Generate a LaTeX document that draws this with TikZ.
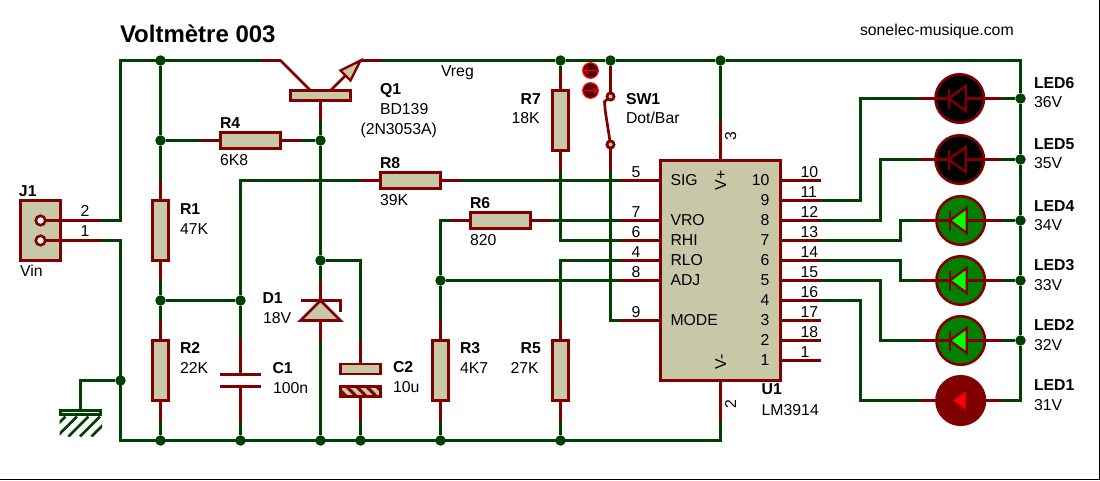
\documentclass[tikz,border=0pt]{standalone}
\usepackage{fontspec}
\setmainfont{Liberation Sans}
\definecolor{wgreen}{RGB}{0,64,0}
\definecolor{pred}{RGB}{128,0,0}
\definecolor{cream}{RGB}{200,200,168}
\definecolor{ledgreen}{RGB}{0,128,0}
\definecolor{btn}{RGB}{80,0,0}
\tikzset{
 wirew/.style={draw=wgreen,line width=2.7,line join=miter},
 pinw/.style={draw=pred,line width=2.7,line join=round},
 body/.style={draw=pred,fill=cream,line width=2.6,inner sep=0pt,outer sep=0pt,rectangle},
 hres/.style={body,minimum width=60pt,minimum height=16pt},
 vres/.style={body,minimum width=16pt,minimum height=60pt},
 plate/.style={fill=pred,inner sep=0pt,outer sep=0pt,rectangle,minimum width=41pt,minimum height=2.8pt},
 dot/.style={circle,fill=wgreen,inner sep=0pt,outer sep=0pt,minimum size=10.5pt},
 pinhole/.style={circle,draw=pred,fill=white,line width=2.6,inner sep=0pt,outer sep=0pt,minimum size=9.5pt},
 swpin/.style={circle,draw=pred,fill=cream,line width=2.6,inner sep=0pt,outer sep=0pt,minimum size=7pt},
 ledc/.style={circle,draw=pred,line width=2.6,inner sep=0pt,outer sep=0pt,minimum size=48.5pt},
 btnc/.style={circle,draw=red,fill=btn,line width=1.2,inner sep=0pt,outer sep=0pt,minimum size=15.5pt},
 lbl/.style={anchor=base west,inner sep=0pt,outer sep=0pt,font=\fontsize{15.8}{18}\selectfont,text=black},
 lbb/.style={lbl,font=\fontsize{15.8}{18}\selectfont\bfseries},
}
\newcommand{\ledsym}[5]{%
 \node[ledc,fill=#4] (#1) at (#2,#3) {};
 \draw[pinw] (#1.center) ++(-41,0) coordinate (#1l) -- ++(82,0) coordinate (#1r);
 \draw[pinw,fill=#5,line width=2.4,line join=miter] (#2-11,#3) -- (#2+6,#3-12.5) -- (#2+6,#3+12.5) -- cycle;
 \draw[pinw,line width=2.4] (#2-11,#3-10) -- (#2-11,#3+10);
}
\begin{document}
\begin{tikzpicture}[x=1pt,y=-1pt]
\useasboundingbox (0,0) rectangle (1100,480);
\fill[white] (0,0) rectangle (1100,480);
\begin{scope}[shift={(0.5,0.5)}]
% ---- junctions
\foreach \n/\x/\y in {j1/160/60,j2/160/140,j3/320/140,j4/160/300,j5/240/300,j6/320/260,j7/120/380,
  j8/160/440,j9/240/440,j10/320/440,j11/360/440,j12/440/440,j13/560/440,j14/440/280,
  j15/560/60,j16/610/60,j17/720/60,j18/1020/98,j19/1020/159,j20/1020/220,j21/1020/280,j22/1020/340}
  {\node[dot] (\n) at (\x,\y) {};}
% ---- bodies
\node[hres] (R4) at (250,140) {};
\node[hres] (R8) at (410,180) {};
\node[hres] (R6) at (500,220) {};
\node[vres] (R1) at (160,230) {};
\node[vres] (R2) at (160,370) {};
\node[vres] (R3) at (440,370) {};
\node[vres] (R5) at (560,370) {};
\node[vres] (R7) at (560,120) {};
\node[body,minimum width=60pt,minimum height=10pt] (Q1) at (320,95) {};
\node[body,minimum width=120pt,minimum height=220pt] (U1) at (720,270) {};
\node[body,minimum width=40pt,minimum height=60pt] (J1) at (40,230) {};
\node[pinhole] (Jh2) at (40,220) {};
\node[pinhole] (Jh1) at (40,240) {};
\node[plate] (C1a) at (240,374) {};
\node[plate] (C1b) at (240,386) {};
\node[body,minimum width=40pt,minimum height=10pt] (C2a) at (360,368.5) {};
\node[body,minimum width=40pt,minimum height=10pt] (C2b) at (360,391) {};
\begin{scope}
 \clip (C2b.north west) rectangle (C2b.south east);
 \foreach \x in {335,345,...,375} {\draw[pred,line width=3] (\x,385) -- (\x+12,397);}
\end{scope}
\draw[pinw,line width=2.6] (C2b.north west) rectangle (C2b.south east);
\node[rectangle,draw=wgreen,fill=white,line width=2.6,inner sep=0pt,outer sep=0pt,minimum width=40pt,minimum height=4pt] (Gnd) at (80,412) {};
% ---- ground hatch
\begin{scope}
 \clip (59,415.5) rectangle (101.5,436);
 \foreach \c in {481,492.5,504,515.5,527,538.5} {\draw[wgreen,line width=2.6] (\c-416,416) -- (\c-436,436);}
\end{scope}
% ---- pins of the resistors
\draw[pinw] (R4.west) -- ++(-20,0) coordinate (R4w);
\draw[pinw] (R4.east) -- ++(20,0) coordinate (R4e);
\draw[pinw] (R8.west) -- ++(-20,0) coordinate (R8w);
\draw[pinw] (R8.east) -- ++(20,0) coordinate (R8e);
\draw[pinw] (R6.west) -- ++(-20,0) coordinate (R6w);
\draw[pinw] (R6.east) -- ++(20,0) coordinate (R6e);
\foreach \r in {R1,R2,R3,R5,R7} {
 \draw[pinw] (\r.north) -- ++(0,-20) coordinate (\r t);
 \draw[pinw] (\r.south) -- ++(0,20) coordinate (\r b);
}
% ---- connector J1
\draw[pinw] (Jh2.east) -- (100,220) coordinate (Jp2);
\draw[pinw] (Jh1.east) -- (100,240) coordinate (Jp1);
% ---- transistor
\coordinate (Qc) at (260,60);
\coordinate (Qe) at (380,60);
\coordinate (Qtip) at (360,60);
\draw[pinw] (Qc) -- (280,60) -- (310,90);
\draw[pinw] (330,90) -- (345,75);
\draw[pinw] (Qtip) -- (Qe);
\draw[pinw,fill=cream,line width=2.4,line join=miter] (Qtip) -- (340,70) -- (350,80) -- cycle;
\draw[pinw] (Q1.south) -- ++(0,20) coordinate (Qb);
% ---- C1
\draw[pinw] (C1a.north) -- ++(0,-34) coordinate (C1t);
\draw[pinw] (C1b.south) -- ++(0,34) coordinate (C1d);
% ---- D1
\coordinate (D1a) at (320,300);
\coordinate (D1c) at (320,320);
\draw[pinw] (D1a) -- ++(0,-20) coordinate (D1t);
\draw[pinw] (D1c) -- ++(0,20) coordinate (D1b);
\draw[pinw,fill=cream,line join=miter] (D1a) -- (300,320) -- (340,320) -- cycle;
\draw[pinw,line join=miter] (300,300) -- (340,300) -- (340,311);
% ---- C2
\draw[pinw] (C2a.north) -- ++(0,-24) coordinate (C2t);
\draw[pinw] (C2b.south) -- ++(0,24) coordinate (C2d);
% ---- switch
\node[swpin] (SWa) at (610,96) {};
\node[swpin] (SWc) at (610,144) {};
\draw[pinw] (j16.south) -- (SWa.north);
\draw[pinw] (SWa.center) -- (604,101) -- (604.7,110) -- (SWc.center);
\node[swpin] at (SWa.center) {};
\node[swpin] at (SWc.center) {};
\draw[pinw] (SWc.south) -- (610,170) coordinate (SWb);
% ---- U1 pins
\foreach \n/\y in {P5/180,P7/220,P6/240,P4/260,P8/280,P9/320} {
 \coordinate (\n) at (620,\y);
 \draw[pinw] (\n) -- (U1.west |- \n);
}
\foreach \y in {180,200,...,360} {
 \coordinate (o\y) at (820,\y);
 \draw[pinw] (U1.east |- o\y) -- (o\y);
}
\draw[pinw] (U1.north) -- ++(0,-40) coordinate (Uv);
\draw[pinw] (U1.south) -- ++(0,40) coordinate (Ugnd);
% ---- LEDs
\ledsym{L6}{959.2}{98}{black}{black}
\ledsym{L5}{959.2}{159}{black}{black}
\ledsym{L4}{960.2}{220}{ledgreen}{green}
\ledsym{L3}{960.2}{280}{ledgreen}{green}
\ledsym{L2}{960.2}{340}{ledgreen}{green}
\node[ledc,fill=pred] (L1) at (960.2,400) {};
\draw[pinw] (L1.center) ++(-41,0) coordinate (L1l) -- ++(82,0) coordinate (L1r);
\fill[red] (953,400) -- (965,391) -- (965,409) -- cycle;
% ---- green wires
\coordinate (jb) at (720,440);
\draw[wirew] (Jp2) -- ++(20,0) |- (Qc);
\draw[wirew] (Jp1) -- ++(20,0) |- (jb) -- (Ugnd);
\draw[wirew] (j1) -- (j2) -- (R1t);
\draw[wirew] (R1b) -- (j4) -- (R2t);
\draw[wirew] (R2b) -- (j8);
\draw[wirew] (j2) -- (R4w);
\draw[wirew] (R4e) -- (j3);
\draw[wirew] (Qb) -- (j3) -- (j6) -- (D1t);
\draw[wirew] (D1b) -- (j10);
\draw[wirew] (j4) -- (j5) -- (C1t);
\draw[wirew] (C1d) -- (j9);
\draw[wirew] (R8w) -| (j5);
\draw[wirew] (j6) -| (C2t);
\draw[wirew] (C2d) -- (j11);
\draw[wirew] (R8e) -- (P5);
\draw[wirew] (R6e) -- (P7);
\draw[wirew] (R6w) -| (j14);
\draw[wirew] (j14) -- (R3t);
\draw[wirew] (R3b) -- (j12);
\draw[wirew] (j14) -- (P8);
\draw[wirew] (R7b) |- (P6);
\draw[wirew] (R5t) |- (P4);
\draw[wirew] (R5b) -- (j13);
\draw[wirew] (j15) -- (R7t);
\draw[wirew] (SWb) |- (P9);
\draw[wirew] (Qe) -- (j15) -- (j16) -- (j17) -- (1020,60) coordinate (cr) -- (j18) -- (j19) -- (j20) -- (j21) -- (j22) |- (L1r);
\draw[wirew] (j17) -- (Uv);
\draw[wirew] (j7) -| (Gnd.north);
\draw[wirew] (o200) -- ++(40,0) |- (L6l);
\draw[wirew] (o220) -- ++(60,0) |- (L5l);
\draw[wirew] (o240) -- ++(80,0) |- (L4l);
\draw[wirew] (o260) -- ++(80,0) |- (L3l);
\draw[wirew] (o280) -- ++(60,0) |- (L2l);
\draw[wirew] (o300) -- ++(40,0) |- (L1l);
\draw[wirew] (L6r) -- (j18);
\draw[wirew] (L5r) -- (j19);
\draw[wirew] (L4r) -- (j20);
\draw[wirew] (L3r) -- (j21);
\draw[wirew] (L2r) -- (j22);
% ---- mode buttons
\node[btnc] (Bup) at (590,70) {};
\node[btnc] (Bdn) at (590,90) {};
\draw[red,line width=.8] (Bup.center) ++(6,0) -- ++(-12,0) -- ++(3,-3) ++(-3,3) -- ++(3,3);
\draw[red,line width=.8] (Bdn.center) ++(-6,0) -- ++(12,0) -- ++(-3,-3) ++(3,3) -- ++(-3,3);
\end{scope}
% ---- texts
\node[lbb,font=\fontsize{24}{26}\selectfont\bfseries] (title) at (120,42) {Voltmètre 003};
\node[lbl] (site) at (860,35) {sonelec-musique.com};
\foreach \n/\x/\y/\t in {tJ1/19/196/J1,tR4/220/128/R4,tR1/180/214/R1,tR2/180/353/R2,tC1/272.5/373/C1,tD1/262.5/303/D1,
  tC2/393/372/C2,tR3/460/353/R3,tR5/520.6/353/R5,tR8/380/168/R8,tR6/470/208/R6,tR7/520.6/104/R7,tQ1/380/94/Q1,
  tSW/626/104/SW1,tU1/761.7/394/U1,tL6/1034/88.7/LED6,tL5/1034/149/LED5,tL4/1034/211/LED4,tL3/1034/270.7/LED3,
  tL2/1034/330.7/LED2,tL1/1034/390.7/LED1}
  {\node[lbb] (\n) at (\x,\y) {\t};}
\foreach \n/\x/\y/\t in {vVin/20/276/Vin,vJ2/80.5/216.7/2,vJ1/80.5/236.7/1,v6K8/220/165/6K8,v47K/180/234/47K,v22K/180/373/22K,
  v100n/273/393/100n,v18V/263/323/18V,v10u/393/392/10u,v4K7/460/373/4K7,v27K/510.6/373/27K,v39K/380/205/39K,
  v820/470/245/820,v18K/511.6/123/18K,vBD/380/114/BD139,v2N/360.5/134/(2N3053A),vVreg/441/76/Vreg,
  vLM/761.7/415/LM3914,v36/1034/107.7/36V,v35/1034/168/35V,v34/1034/230/34V,v33/1034/290/33V,v32/1034/350/32V,v31/1034/410/31V}
  {\node[lbl] (\n) at (\x,\y) {\t};}
\node[lbl] (vDot) at (626,123) {Dot/Bar};
\foreach \n/\y/\t in {n5/177/5,n7/217/7,n6/237/6,n4/257/4,n8/277/8,n9/317/9}
  {\node[lbl] (\n) at (631.5,\y) {\t};}
\foreach \n/\y/\t in {iS/185/SIG,iV/225/VRO,iH/245/RHI,iL/265/RLO,iA/285/ADJ,iM/325/MODE}
  {\node[lbl] (\n) at (670.5,\y) {\t};}
\foreach \n/\y in {10/180,9/200,8/220,7/240,6/260,5/280,4/300,3/320,2/340,1/360}
  {\node[lbl,anchor=base east] (in\n) at (769.5,\y+5) {\n};}
\foreach \n/\y in {10/180,11/200,12/220,13/240,14/260,15/280,16/300,17/320,18/340,1/360}
  {\node[lbl] (ou\n) at (800.5,\y-3) {\n};}
\node[lbl,rotate=90] (vp) at (726,190) {V+};
\node[lbl,rotate=90] (vm) at (726,369) {V-};
\node[lbl,rotate=90] (p3) at (736,140) {3};
\node[lbl,rotate=90] (p2) at (736,408.5) {2};
% ---- frame edges
\draw[black,line width=1] (0,479.5) -- (1099.5,479.5) -- (1099.5,0);
\end{tikzpicture}
\end{document}
